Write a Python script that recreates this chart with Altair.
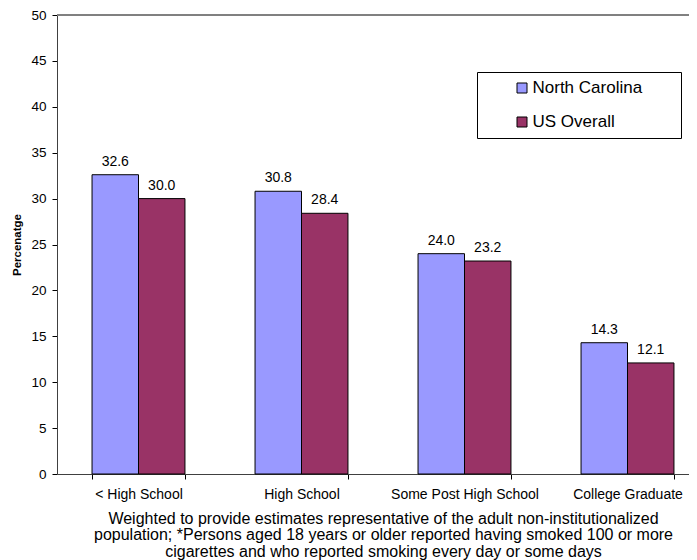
import altair as alt
import pandas as pd

categories = ["< High School", "High School", "Some Post High School", "College Graduate"]
series = ["North Carolina", "US Overall"]
nc_values = [32.6, 30.8, 24.0, 14.3]
us_values = [30.0, 28.4, 23.2, 12.1]
colors = ["#9999FF", "#993366"]
footnote = [
    "Weighted to provide estimates representative of the adult non-institutionalized",
    "population; *Persons aged 18 years or older reported having smoked 100 or more",
    "cigarettes and who reported smoking every day or some days",
]

rows = []
for c, a, b in zip(categories, nc_values, us_values):
    rows.append({"Category": c, "Series": series[0], "Value": a})
    rows.append({"Category": c, "Series": series[1], "Value": b})
df = pd.DataFrame(rows)

FONT = "Liberation Sans"

x_enc = alt.X(
    "Category:N",
    sort=categories,
    scale=alt.Scale(range=[0, 652], paddingInner=0.43, paddingOuter=0.215),
    axis=alt.Axis(
        title=footnote,
        labelAngle=0,
        labelFontSize=14,
        labelFont=FONT,
        labelColor="#000000",
        labelPadding=8,
        tickBand="extent",
        tickSize=5,
        tickColor="#000000",
        domainColor="#404040",
        titleFontSize=16,
        titleFont=FONT,
        titleFontWeight="normal",
        titleColor="#000000",
        titleLineHeight=16.5,
        titlePadding=9,
        labelLimit=300,
    ),
)
xoff_enc = alt.XOffset(
    "Series:N", sort=series, scale=alt.Scale(paddingInner=0, paddingOuter=0)
)
y_enc = alt.Y(
    "Value:Q",
    scale=alt.Scale(domain=[0, 50], nice=False),
    axis=alt.Axis(
        title="Percenatge",
        titleFontSize=11.5,
        titleFont=FONT,
        titleFontWeight="bold",
        titleColor="#000000",
        titlePadding=8,
        values=list(range(0, 51, 5)),
        labelFontSize=13.5,
        labelFont=FONT,
        labelColor="#000000",
        labelPadding=6,
        tickSize=5,
        tickColor="#000000",
        domainColor="#404040",
        grid=False,
    ),
)

bars = alt.Chart(df).mark_bar(stroke="#000000", strokeWidth=1).encode(
    x=x_enc,
    xOffset=xoff_enc,
    y=y_enc,
    color=alt.Color(
        "Series:N",
        sort=series,
        scale=alt.Scale(domain=series, range=colors),
        legend=alt.Legend(
            title=".",
            titleOrient="right",
            titleColor="#FFFFFF",
            titleFontSize=4,
            titlePadding=29,
            orient="none",
            legendX=420,
            legendY=57,
            padding=7.5,
            strokeColor="#000000",
            fillColor="#FFFFFF",
            symbolType="square",
            symbolSize=100,
            symbolStrokeColor="#000000",
            symbolStrokeWidth=1,
            symbolOffset=29,
            labelOffset=2,
            labelFontSize=17,
            labelFont=FONT,
            labelColor="#000000",
            rowPadding=16,
        ),
    ),
)

labels = alt.Chart(df).mark_text(
    baseline="alphabetic", dy=-9, fontSize=14, font=FONT, color="#000000"
).encode(
    x=alt.X("Category:N", sort=categories),
    xOffset=alt.XOffset("Series:N", sort=series),
    y="Value:Q",
    text=alt.Text("Value:Q", format=".1f"),
)

top_line = alt.Chart(df).mark_rule(color="#808080", strokeWidth=1).encode(
    y=alt.datum(50)
)

chart = (
    alt.layer(top_line, bars, labels)
    .properties(
        width=632,
        height=459,
        autosize=alt.AutoSizeParams(type="none"),
        padding={"left": 49, "top": 7, "right": 0, "bottom": 88},
    )
    .configure_view(stroke=None)
    .configure(font=FONT)
)

chart.save("out.html", embed_options={"renderer": "svg", "actions": False})
